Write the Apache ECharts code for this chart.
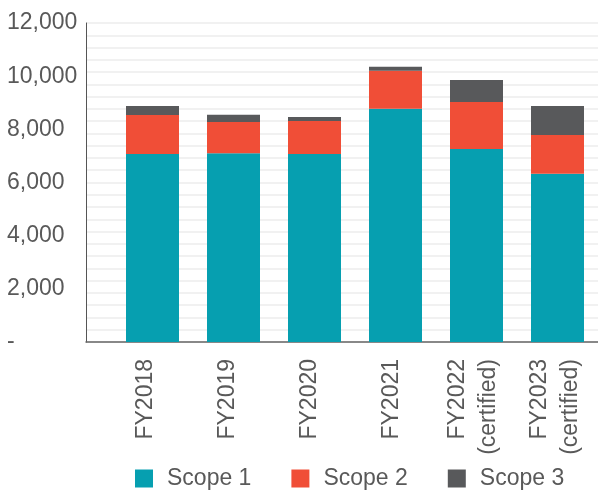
<!DOCTYPE html>
<html><head><meta charset="utf-8">
<script src="https://cdn.jsdelivr.net/npm/echarts@6/dist/echarts.min.js"></script>
<style>html,body{margin:0;padding:0;background:#fff}#c{width:598px;height:491px}</style>
</head><body><div id="c"></div>
<script>
const categories = ['FY2018','FY2019','FY2020','FY2021','FY2022\n(certified)','FY2023\n(certified)'];
const scope1 = [7070, 7100, 7070, 8770, 7260, 6330];
const scope2 = [1470, 1180, 1245, 1430, 1770, 1455];
const scope3 = [340, 265, 150, 150, 830, 1090];
const seriesNames = ['Scope 1','Scope 2','Scope 3'];
const colors = ['#069FB0','#F04E37','#58595B'];
const yMax = 12000, yStep = 2000;
const gridLineCount = 26;

const textColor = '#595959';
const font = 'Liberation Sans, Arial, Helvetica, sans-serif';
const chart = echarts.init(document.getElementById('c'), null, {renderer:'canvas'});
const gTop = 23, gBottom = 149;
chart.setOption({
  animation:false,
  textStyle:{fontFamily:font},
  legend:{
    data:seriesNames, top:467, left:135, padding:0, itemWidth:18, itemHeight:18, itemGap:40,
    icon:'rect',
    textStyle:{color:textColor, fontSize:23, fontFamily:font, padding:[0,0,0,9]}
  },
  grid:[
    {left:86, right:0, top:gTop, bottom:gBottom},
    {left:112, width:492, top:gTop, bottom:gBottom},
    {left:104.3, width:492, top:gTop, bottom:gBottom}
  ],
  xAxis:[
    {gridIndex:0, type:'value', min:0, max:1, axisLine:{show:true, onZero:false, lineStyle:{color:'#666', width:1.5}}, axisTick:{show:false}, axisLabel:{show:false}, splitLine:{show:false}},
    {gridIndex:1, type:'category', data:categories, axisLine:{show:false}, axisTick:{show:false}, axisLabel:{show:false}},
    {gridIndex:2, type:'category', data:categories, axisLine:{show:false}, axisTick:{show:false},
      axisLabel:{show:true, rotate:90, interval:0, margin:17, color:textColor, fontSize:23, lineHeight:31, fontFamily:font}}
  ],
  yAxis:[
    {gridIndex:0, type:'value', min:0, max:gridLineCount, interval:1, axisLine:{show:false}, axisTick:{show:false}, axisLabel:{show:false},
      splitLine:{show:true, lineStyle:{color:'#ececec', width:1.5}}},
    {gridIndex:0, type:'value', min:0, max:yMax, interval:yStep, position:'left',
      axisLine:{show:true, lineStyle:{color:'#555', width:1}}, axisTick:{show:false}, splitLine:{show:false},
      axisLabel:{show:true, align:'left', margin:79, color:textColor, fontSize:23, fontFamily:font,
        formatter:v=> v===0 ? '-' : v.toLocaleString('en-US')}},
    {gridIndex:1, type:'value', min:0, max:yMax, show:false},
    {gridIndex:2, type:'value', min:0, max:yMax, show:false}
  ],
  series:[scope1, scope2, scope3].map((d,i)=>({
    name:seriesNames[i], type:'bar', stack:'total', xAxisIndex:1, yAxisIndex:2,
    data:d, barWidth:53, itemStyle:{color:colors[i]}
  }))
});
</script></body></html>
